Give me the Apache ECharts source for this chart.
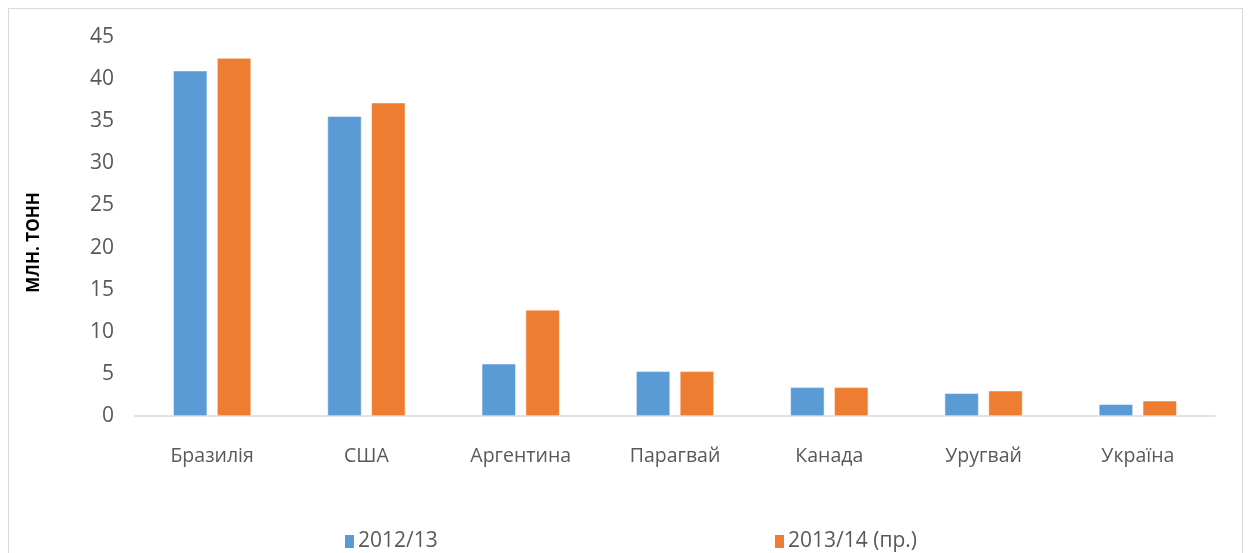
<!DOCTYPE html>
<html>
<head>
<meta charset="utf-8">
<script src="https://cdn.jsdelivr.net/npm/echarts@6/dist/echarts.min.js"></script>
<style>
  body { margin: 0; background: #fff; }
  .proCharts {
    position: absolute;
    left: 8px;
    top: 8px;
    width: 1233px;
    height: 560px;
    border: 1px solid #d9d9d9;
  }
</style>
</head>
<body>
<div class="proCharts" id="charts"></div>
<script>
// країни
var countries = ['Бразилія', 'США', 'Аргентина', 'Парагвай', 'Канада', 'Уругвай', 'Україна'];
// млн. тонн
var season1213 = [41.0, 35.6, 6.2, 5.3, 3.4, 2.7, 1.4];
var season1314 = [42.5, 37.2, 12.6, 5.3, 3.4, 3.0, 1.8];
var seriesNames = ['2012/13', '2013/14 (пр.)'];

var myChart = echarts.init(document.getElementById('charts'));
var labelFont = 'Open Sans, sans-serif';

var option = {
  color: ['#5b9bd5', '#ed7d31'],
  animation: false,
  legend: [
    {
      data: [seriesNames[0]],
      left: 329,
      top: 517,
      itemWidth: 11,
      itemHeight: 15,
      itemGap: 6,
      icon: 'rect',
      textStyle: { color: '#595959', fontSize: 21, fontFamily: labelFont, padding: [0, 0, 0, -2] }
    },
    {
      data: [seriesNames[1]],
      left: 759,
      top: 517,
      itemWidth: 11,
      itemHeight: 15,
      icon: 'rect',
      textStyle: { color: '#595959', fontSize: 21, fontFamily: labelFont, padding: [0, 0, 0, -2] }
    }
  ],
  grid: {
    left: 126,
    top: 28,
    width: 1080,
    height: 379,
    containLabel: false
  },
  xAxis: {
    type: 'category',
    data: countries,
    axisLine: { show: true, lineStyle: { color: '#d9d9d9', width: 1.5 } },
    axisTick: { show: false },
    axisLabel: {
      interval: 0,
      margin: 30,
      color: '#595959',
      fontSize: 19.5,
      fontFamily: labelFont
    }
  },
  yAxis: {
    type: 'value',
    min: 0,
    max: 45,
    interval: 5,
    name: 'МЛН. ТОНН',
    nameLocation: 'middle',
    nameGap: 92,
    nameTextStyle: {
      color: '#000',
      fontSize: 17,
      fontWeight: 'bold',
      fontFamily: 'Open Sans, sans-serif',
      padding: [0, 32, 0, 0]
    },
    axisLine: { show: false },
    axisTick: { show: false },
    splitLine: { show: false },
    axisLabel: {
      margin: 21,
      color: '#595959',
      fontSize: 21,
      fontFamily: labelFont
    }
  },
  series: [
    {
      name: seriesNames[0],
      type: 'bar',
      data: season1213,
      barWidth: 34,
      barGap: '29%',
      itemStyle: { borderColor: '#ffffff', borderWidth: 0.5 }
    },
    {
      name: seriesNames[1],
      type: 'bar',
      data: season1314,
      barWidth: 34,
      barGap: '29%',
      itemStyle: { borderColor: '#ffffff', borderWidth: 0.5 }
    }
  ]
};

myChart.setOption(option);
window.addEventListener('resize', function () {
  myChart.resize();
});
</script>
</body>
</html>
